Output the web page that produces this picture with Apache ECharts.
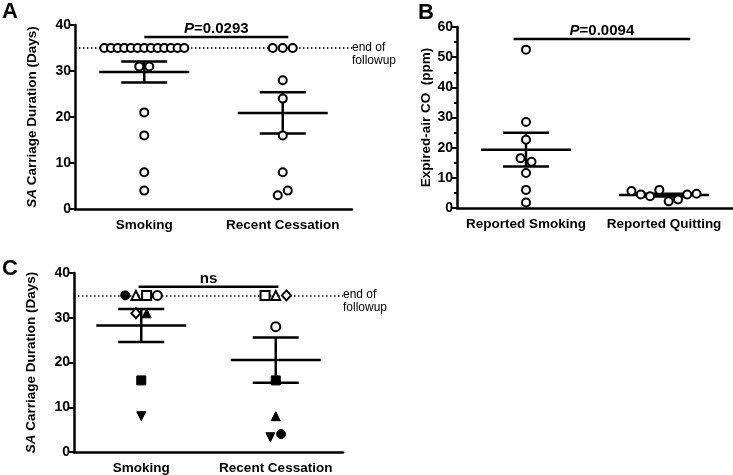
<!DOCTYPE html>
<html><head><meta charset="utf-8">
<script src="https://cdn.jsdelivr.net/npm/echarts@6/dist/echarts.min.js"></script>
<style>html,body{margin:0;padding:0;background:#fff}#c{width:733px;height:475px}</style>
</head><body><div id="c"></div>
<script>
// ---------- DATA ----------
// Panel A: SA carriage duration (days)
const categoriesA = ['Smoking', 'Recent Cessation'];
const smokingA = [35,35,35,35,35,35,35,35,35,35,35,35,35,31,31,21,16,8,4];
const cessationA = [35,35,35,28,24,16,8,3,4];
const pTextA = 'P=0.0293';
const pBarA = [0.5, 1.54, 37.4];           // x-start, x-end (category units), y
const yTicksA = [0, 40, 10];               // min, max, interval

// Panel B: Expired-air CO (ppm)
const categoriesB = ['Reported Smoking', 'Reported Quitting'];
const smokingB = [52.5, 28.5, 22.6, 16.5, 15.3, 11.6, 6.0, 1.8];
const quittingB = [5.6, 4.5, 3.9, 6.0, 2.2, 2.8, 4.5, 4.7];
const pTextB = 'P=0.0094';
const pBarB = [0.41, 1.69, 56];
const yTicksB = [0, 60, 10];

// Panel C: paired subjects, per-subject symbols
const categoriesC = ['Smoking', 'Recent Cessation'];
const smokingC = [35, 35, 35, 35, 31, 31, 16, 8];
const smokingSymC = ['circle','triangle','rect','circle','diamond','triangle','rect','down'];
const smokingFillC = [1,0,0,0,0,1,1,1];
const cessationC = [35, 35, 35, 28, 16, 8, 3.3, 4];
const cessationSymC = ['rect','triangle','diamond','circle','rect','triangle','down','circle'];
const cessationFillC = [0,0,0,0,1,1,1,1];
const pTextC = 'ns';
const pBarC = [0.48, 1.52, 36.9];
const yTicksC = [0, 40, 10];

const followupValue = 35;
const followupText = 'end of\nfollowup';

// ---------- HELPERS ----------
const FONT = '"Liberation Sans", Arial, sans-serif';
const mean = a => a.reduce((s, v) => s + v, 0) / a.length;
const sem = a => { const m = mean(a); return Math.sqrt(a.reduce((s, v) => s + (v - m) * (v - m), 0) / (a.length - 1) / a.length); };

function swarm(values, grid, yMax, center, spacingPx, maxRowPx, clusterPx) {
  const pxPerY = grid.height / yMax, pxPerX = grid.width / 2;
  const idx = values.map((v, i) => i).sort((a, b) => values[a] - values[b]);
  const clusters = []; let cur = [idx[0]];
  for (let k = 1; k < idx.length; k++) {
    if ((values[idx[k]] - values[idx[k - 1]]) * pxPerY < clusterPx) cur.push(idx[k]);
    else { clusters.push(cur); cur = [idx[k]]; }
  }
  clusters.push(cur);
  const xs = [];
  clusters.forEach(c => {
    c.sort((a, b) => a - b);
    const n = c.length;
    const sp = n > 1 ? Math.min(spacingPx, maxRowPx / (n - 1)) : 0;
    c.forEach((i, k) => { xs[i] = center + (k - (n - 1) / 2) * sp / pxPerX; });
  });
  return values.map((v, i) => [xs[i], v]);
}

const grids = [
  {left: 75, top: 25, width: 277, height: 184},
  {left: 457, top: 27, width: 276, height: 181},
  {left: 74, top: 273, width: 269, height: 179}
];

const axisLineStyle = {color: '#000', width: 2.5};
function catAxis(gi, cats) {
  return {type: 'category', gridIndex: gi, data: cats, boundaryGap: true,
    axisLine: {lineStyle: axisLineStyle},
    axisTick: {alignWithLabel: true, length: 5, lineStyle: {color: '#000', width: 2}},
    axisLabel: {color: '#000', fontWeight: 'bold', fontSize: 13.5, fontFamily: FONT, margin: 9, interval: 0}};
}
function hidAxis(gi) { return {type: 'value', gridIndex: gi, min: 0, max: 2, show: false}; }
function valAxis(gi, ticks, name, gap, minor) {
  return {type: 'value', gridIndex: gi, min: ticks[0], max: ticks[1], interval: ticks[2],
    name: name, nameLocation: 'middle', nameGap: gap,
    nameTextStyle: {color: '#000', fontWeight: 'bold', fontSize: 13.5, fontFamily: FONT,
      rich: {i: {fontStyle: 'italic', fontWeight: 'bold', fontSize: 13.5, fontFamily: FONT, color: '#000'}}},
    axisLine: {show: true, lineStyle: axisLineStyle},
    axisTick: {show: true, length: 5, lineStyle: {color: '#000', width: 2}},
    minorTick: {show: !!minor, splitNumber: 2, length: 3, lineStyle: {color: '#000', width: 2}},
    splitLine: {show: false},
    axisLabel: {color: '#000', fontWeight: 'bold', fontSize: 14, fontFamily: FONT, margin: 4}};
}

function errorBars(gi, groups) {
  return {type: 'custom', xAxisIndex: gi * 2 + 1, yAxisIndex: gi, z: 3, silent: true,
    data: groups.map((g, i) => { const m = mean(g), s = sem(g); return [i + 0.5, m, m - s, m + s]; }),
    renderItem: (params, api) => {
      const x = api.value(0);
      const pm = api.coord([x, api.value(1)]), pl = api.coord([x, api.value(2)]), ph = api.coord([x, api.value(3)]);
      const st = {stroke: '#000', lineWidth: 2.5};
      return {type: 'group', children: [
        {type: 'line', shape: {x1: pm[0] - 45, y1: pm[1], x2: pm[0] + 45, y2: pm[1]}, style: st},
        {type: 'line', shape: {x1: pl[0] - 23, y1: pl[1], x2: pl[0] + 23, y2: pl[1]}, style: st},
        {type: 'line', shape: {x1: ph[0] - 23, y1: ph[1], x2: ph[0] + 23, y2: ph[1]}, style: st},
        {type: 'line', shape: {x1: pl[0], y1: pl[1], x2: ph[0], y2: ph[1]}, style: st}
      ]};
    }};
}

function sigBar(gi, bar, text) {
  const isP = text.startsWith('P');
  const label = isP ? '{i|P}{n|' + text.slice(1) + '}' : '{n|' + text + '}';
  return {type: 'custom', xAxisIndex: gi * 2 + 1, yAxisIndex: gi, z: 3, silent: true,
    data: [bar],
    renderItem: (params, api) => {
      const p0 = api.coord([api.value(0), api.value(2)]), p1 = api.coord([api.value(1), api.value(2)]);
      return {type: 'group', children: [
        {type: 'line', shape: {x1: p0[0], y1: p0[1], x2: p1[0], y2: p1[1]}, style: {stroke: '#000', lineWidth: 2.5}},
        {type: 'text', x: (p0[0] + p1[0]) / 2, y: p0[1] - 1, style: {text: label, align: 'center', verticalAlign: 'bottom',
          rich: {i: {fontStyle: 'italic', fontWeight: 'bold', fontSize: 15, fontFamily: FONT, fill: '#000'},
                 n: {fontWeight: 'bold', fontSize: 15, fontFamily: FONT, fill: '#000'}}}}
      ]};
    }};
}

const openCircle = {color: '#fff', borderColor: '#000', borderWidth: 2, opacity: 1};
function circles(gi, vals, center, yMax, spacing, maxRow, withFollowup) {
  const s = {type: 'scatter', xAxisIndex: gi * 2 + 1, yAxisIndex: gi, z: 4, silent: true,
    symbol: 'circle', symbolSize: 8, itemStyle: openCircle,
    data: swarm(vals, grids[gi], yMax, center, spacing, maxRow, 10)};
  if (withFollowup) s.markLine = followupLine();
  return s;
}
function followupLine() {
  return {silent: true, symbol: 'none', z: 2, animation: false,
    lineStyle: {type: [1.5, 2.5], color: '#000', width: 1.5, opacity: 1},
    data: [{yAxis: followupValue}],
    label: {show: true, position: 'end', formatter: followupText, distance: 0, color: '#000',
      fontSize: 12, fontFamily: FONT, lineHeight: 13, align: 'left', offset: [0, 6]}};
}
function symbolPoints(gi, vals, syms, fills, center) {
  const pts = swarm(vals, grids[gi], 40, center, 10.7, 80, 10);
  return pts.map((p, i) => {
    const sym = syms[i];
    const filled = fills[i];
    return {value: p,
      symbol: sym === 'down' ? 'triangle' : sym,
      symbolRotate: sym === 'down' ? 180 : 0,
      symbolSize: sym === 'diamond' ? [9, 10] : 9,
      itemStyle: filled ? {color: '#000', borderColor: '#000', borderWidth: 1, opacity: 1}
                        : {color: '#fff', borderColor: '#000', borderWidth: 2, opacity: 1}};
  });
}

const option = {
  animation: false,
  backgroundColor: '#fff',
  title: [
    {text: 'A', left: 2, top: 1, padding: 0, textStyle: {fontSize: 22, fontWeight: 'bold', fontFamily: FONT, color: '#000'}},
    {text: 'B', left: 418, top: 2, padding: 0, textStyle: {fontSize: 22, fontWeight: 'bold', fontFamily: FONT, color: '#000'}},
    {text: 'C', left: 2, top: 258, padding: 0, textStyle: {fontSize: 22, fontWeight: 'bold', fontFamily: FONT, color: '#000'}}
  ],
  grid: grids,
  xAxis: [catAxis(0, categoriesA), hidAxis(0), catAxis(1, categoriesB), hidAxis(1), catAxis(2, categoriesC), hidAxis(2)],
  yAxis: [
    valAxis(0, yTicksA, '{i|SA} Carriage Duration (Days)', 36, false),
    valAxis(1, yTicksB, 'Expired-air CO  (ppm)', 24, true),
    valAxis(2, yTicksC, '{i|SA} Carriage Duration (Days)', 36, false)
  ],
  series: [
    errorBars(0, [smokingA, cessationA]),
    sigBar(0, pBarA, pTextA),
    circles(0, smokingA, 0.5, 40, 10, 80, true),
    circles(0, cessationA, 1.5, 40, 10, 80, false),
    errorBars(1, [smokingB, quittingB]),
    sigBar(1, pBarB, pTextB),
    circles(1, smokingB, 0.5, 60, 11, 80, false),
    circles(1, quittingB, 1.5, 60, 9.3, 80, false),
    errorBars(2, [smokingC, cessationC]),
    sigBar(2, pBarC, pTextC),
    Object.assign({type: 'scatter', xAxisIndex: 5, yAxisIndex: 2, z: 4, silent: true,
      data: symbolPoints(2, smokingC, smokingSymC, smokingFillC, 0.5)}, {markLine: followupLine()}),
    {type: 'scatter', xAxisIndex: 5, yAxisIndex: 2, z: 4, silent: true,
      data: symbolPoints(2, cessationC, cessationSymC, cessationFillC, 1.5)}
  ]
};
const chart = echarts.init(document.getElementById('c'));
chart.setOption(option);
</script>
</body></html>
